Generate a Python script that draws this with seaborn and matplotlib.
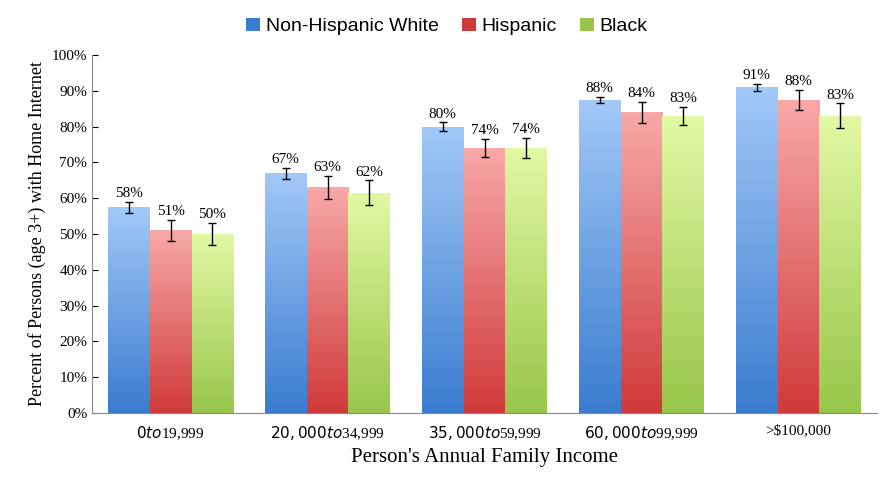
import numpy as np
import pandas as pd
import seaborn as sns
import matplotlib.pyplot as plt
from matplotlib.colors import LinearSegmentedColormap
from matplotlib.patches import Patch

incomes = ['$0 to $19,999', '$20,000 to $34,999', '$35,000 to $59,999',
           '$60,000 to $99,999', '>$100,000']
groups = ['Non-Hispanic White', 'Hispanic', 'Black']
white = [57.5, 67, 80, 87.5, 91]
hispanic = [51, 63, 74, 84, 87.5]
black = [50, 61.5, 74, 83, 83]
white_err = [1.5, 1.5, 1.2, 0.8, 0.9]
hispanic_err = [3, 3.2, 2.6, 3, 2.8]
black_err = [3, 3.5, 2.8, 2.5, 3.5]

grad = {'Non-Hispanic White': ('#3a7ccf', '#a2c8f7'),
        'Hispanic': ('#d03a3a', '#f8a8a8'),
        'Black': ('#98c64a', '#e2f8a4')}

df = pd.DataFrame({
    'income': incomes * 3,
    'group': [g for g in groups for _ in incomes],
    'value': white + hispanic + black,
    'err': white_err + hispanic_err + black_err,
})

plt.rcParams['font.family'] = ['Liberation Serif', 'DejaVu Serif']
fig = plt.figure(figsize=(8.94, 4.88), dpi=100)
ax = fig.add_axes([0.103, 0.154, 0.878, 0.733])
sns.barplot(data=df, x='income', y='value', hue='group', order=incomes,
            hue_order=groups, width=0.8, gap=0, edgecolor='none',
            legend=False, ax=ax)

for gi, g in enumerate(groups):
    cmap = LinearSegmentedColormap.from_list(g, grad[g])
    sub = df[df.group == g].reset_index(drop=True)
    for i in range(len(incomes)):
        p = ax.patches[gi * len(incomes) + i]
        x0, w, h = p.get_x(), p.get_width(), p.get_height()
        p.set_alpha(0)
        im = ax.imshow(np.linspace(0, 1, 256).reshape(-1, 1), cmap=cmap,
                       origin='lower', aspect='auto',
                       extent=[x0, x0 + w, 0, h], zorder=2)
        im.set_clip_path(p)
        cx = x0 + w / 2
        e = sub.err[i]
        ax.errorbar(cx, h, yerr=e, color='black', capsize=3, lw=1, zorder=3)
        ax.text(cx, h + e + 0.5, f'{round(h + 0.01):.0f}%', ha='center',
                va='bottom', fontsize=11, zorder=4)

ax.set_xlim(-0.5, 4.5)
ax.set_ylim(0, 100)
ax.set_yticks(range(0, 101, 10))
ax.set_yticklabels([f'{v}%' for v in range(0, 101, 10)], fontsize=11)
ax.tick_params(axis='x', labelsize=11, length=0, pad=8)
ax.tick_params(axis='y', direction='in', length=4)
ax.set_xlabel("Person's Annual Family Income", fontsize=15)
ax.set_ylabel('Percent of Persons (age 3+) with Home Internet', fontsize=13)
for s in ['top', 'right']:
    ax.spines[s].set_visible(False)
ax.spines['left'].set_color('#888888')
ax.spines['bottom'].set_color('#888888')

handles = [Patch(facecolor=grad[g][0], label=g) for g in groups]
fig.legend(handles=handles, loc='upper center', ncol=3, frameon=False,
           fontsize=14, bbox_to_anchor=(0.5, 1.0), handlelength=0.7,
           handleheight=0.7, handletextpad=0.3, columnspacing=1.2,
           prop={'family': ['Liberation Sans'], 'size': 14})
fig.savefig('out.png')
